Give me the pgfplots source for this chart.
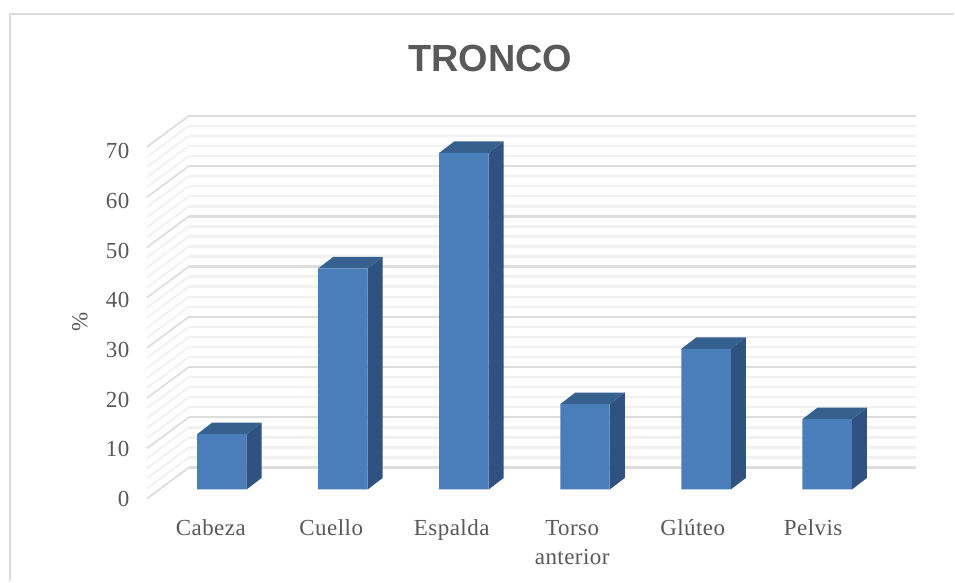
\documentclass[border=0pt]{standalone}
\usepackage{fontspec}
\setmainfont[LetterSpace=2]{Liberation Serif}
\newfontfamily\titlefont{Liberation Sans}
\usepackage{pgfplots}
\pgfplotsset{compat=1.18}
\definecolor{barfront}{HTML}{4A7EBB}
\definecolor{barside}{HTML}{2F5280}
\definecolor{bartop}{HTML}{36618F}
\definecolor{txt}{HTML}{595959}
\definecolor{gridmaj}{HTML}{DDDDDD}
\definecolor{gridmin}{HTML}{F1F1F1}
\begin{document}
\begin{tikzpicture}[x=1pt,y=1pt]
\path[fill=white] (0,0) rectangle (716.25,436.5);
\draw[color=gridmaj,line width=1.5pt] (7.2,0) -- (7.2,426) -- (716.25,426);

% back wall and left wall
\begin{axis}[
  at={(141.75pt,85.5pt)},anchor=south west,
  scale only axis,width=546pt,height=264pt,
  xmin=0,xmax=1,ymin=0,ymax=70,clip=false,
  unbounded coords=jump,
  xtick=\empty,ytick={0,10,...,70},minor y tick num=4,
  yticklabels={},
  ymajorgrids,yminorgrids,
  major grid style={color=gridmaj,line width=1.8pt},
  minor grid style={color=gridmin,line width=1.8pt},
  axis line style={draw=none},tick style={draw=none},
]
\addplot[color=gridmin,line width=1.3pt] coordinates {
(-0.0577,-4.2)(0,2)(0,nan)(-0.0577,-2.2)(0,4)(0,nan)(-0.0577,-0.2)(0,6)(0,nan)(-0.0577,1.8)(0,8)(0,nan)
(-0.0577,5.8)(0,12)(0,nan)(-0.0577,7.8)(0,14)(0,nan)(-0.0577,9.8)(0,16)(0,nan)(-0.0577,11.8)(0,18)(0,nan)
(-0.0577,15.8)(0,22)(0,nan)(-0.0577,17.8)(0,24)(0,nan)(-0.0577,19.8)(0,26)(0,nan)(-0.0577,21.8)(0,28)(0,nan)
(-0.0577,25.8)(0,32)(0,nan)(-0.0577,27.8)(0,34)(0,nan)(-0.0577,29.8)(0,36)(0,nan)(-0.0577,31.8)(0,38)(0,nan)
(-0.0577,35.8)(0,42)(0,nan)(-0.0577,37.8)(0,44)(0,nan)(-0.0577,39.8)(0,46)(0,nan)(-0.0577,41.8)(0,48)(0,nan)
(-0.0577,45.8)(0,52)(0,nan)(-0.0577,47.8)(0,54)(0,nan)(-0.0577,49.8)(0,56)(0,nan)(-0.0577,51.8)(0,58)(0,nan)
(-0.0577,55.8)(0,62)(0,nan)(-0.0577,57.8)(0,64)(0,nan)(-0.0577,59.8)(0,66)(0,nan)(-0.0577,61.8)(0,68)
};
\addplot[color=gridmaj,line width=1.3pt] coordinates {
(-0.0577,-6.2)(0,0)(0,nan)(-0.0577,3.8)(0,10)(0,nan)(-0.0577,13.8)(0,20)(0,nan)(-0.0577,23.8)(0,30)(0,nan)
(-0.0577,33.8)(0,40)(0,nan)(-0.0577,43.8)(0,50)(0,nan)(-0.0577,53.8)(0,60)(0,nan)(-0.0577,63.8)(0,70)
};
\end{axis}

% bars
\begin{axis}[
  at={(110.25pt,69pt)},anchor=south west,
  scale only axis,width=577.5pt,height=264pt,
  xmin=-0.6188,xmax=5.734,ymin=0,ymax=70,clip=false,
  hide axis,
]
% side faces
\addplot[fill=barside,draw=none] coordinates {(0.2042,11)(0.3282,13.29)(0.3282,2.29)(0.2042,0)} -- cycle;
\addplot[fill=barside,draw=none] coordinates {(1.2042,44)(1.3282,46.29)(1.3282,2.29)(1.2042,0)} -- cycle;
\addplot[fill=barside,draw=none] coordinates {(2.2042,67)(2.3282,69.29)(2.3282,2.29)(2.2042,0)} -- cycle;
\addplot[fill=barside,draw=none] coordinates {(3.2042,17)(3.3282,19.29)(3.3282,2.29)(3.2042,0)} -- cycle;
\addplot[fill=barside,draw=none] coordinates {(4.2042,28)(4.3282,30.29)(4.3282,2.29)(4.2042,0)} -- cycle;
\addplot[fill=barside,draw=none] coordinates {(5.2042,14)(5.3282,16.29)(5.3282,2.29)(5.2042,0)} -- cycle;
% top faces
\addplot[fill=bartop,draw=none] coordinates {(-0.2042,11)(0.2042,11)(0.3282,13.29)(-0.0802,13.29)} -- cycle;
\addplot[fill=bartop,draw=none] coordinates {(0.7958,44)(1.2042,44)(1.3282,46.29)(0.9198,46.29)} -- cycle;
\addplot[fill=bartop,draw=none] coordinates {(1.7958,67)(2.2042,67)(2.3282,69.29)(1.9198,69.29)} -- cycle;
\addplot[fill=bartop,draw=none] coordinates {(2.7958,17)(3.2042,17)(3.3282,19.29)(2.9198,19.29)} -- cycle;
\addplot[fill=bartop,draw=none] coordinates {(3.7958,28)(4.2042,28)(4.3282,30.29)(3.9198,30.29)} -- cycle;
\addplot[fill=bartop,draw=none] coordinates {(4.7958,14)(5.2042,14)(5.3282,16.29)(4.9198,16.29)} -- cycle;
% front faces
\addplot[ybar,bar width=37.1pt,bar shift=0pt,fill=barfront,draw=none] coordinates {
  (0,11)(1,44)(2,67)(3,17)(4,28)(5,14)};
\end{axis}

% labels
\begin{axis}[
  at={(110.25pt,63pt)},anchor=south west,
  scale only axis,width=577.5pt,height=261pt,
  xmin=-0.5307,xmax=5.854,ymin=0,ymax=70,clip=false,
  axis line style={draw=none},tick style={draw=none},
  major tick length=0pt,
  /pgf/number format/assume math mode=true,
  ytick={0,10,...,70},
  xtick={0,1,2,3,4,5},
  xticklabels={Cabeza,Cuello,Espalda,{\vtop{\hbox to 70pt{\hfil Torso\hfil}\hbox to 70pt{\hfil anterior\hfil}}},Glúteo,Pelvis},
  tick label style={font=\fontsize{17.25}{21.75}\selectfont,text=txt},
  yticklabel style={anchor=east,inner sep=0pt,xshift=-13pt,yshift=-1pt},
  xticklabel style={anchor=north,inner sep=0pt,text height=12pt,yshift=-16.5pt},
  ylabel={\%},
  ylabel style={at={(axis description cs:-0.087,0.505)},anchor=center,
    font=\fontsize{17.25}{20}\selectfont,text=txt},
  title={\titlefont\bfseries TRONCO},
  title style={at={(axis description cs:0.4465,1.24)},anchor=center,
    font=\fontsize{28.4}{32}\selectfont,text=txt},
]
\end{axis}
\end{tikzpicture}
\end{document}
